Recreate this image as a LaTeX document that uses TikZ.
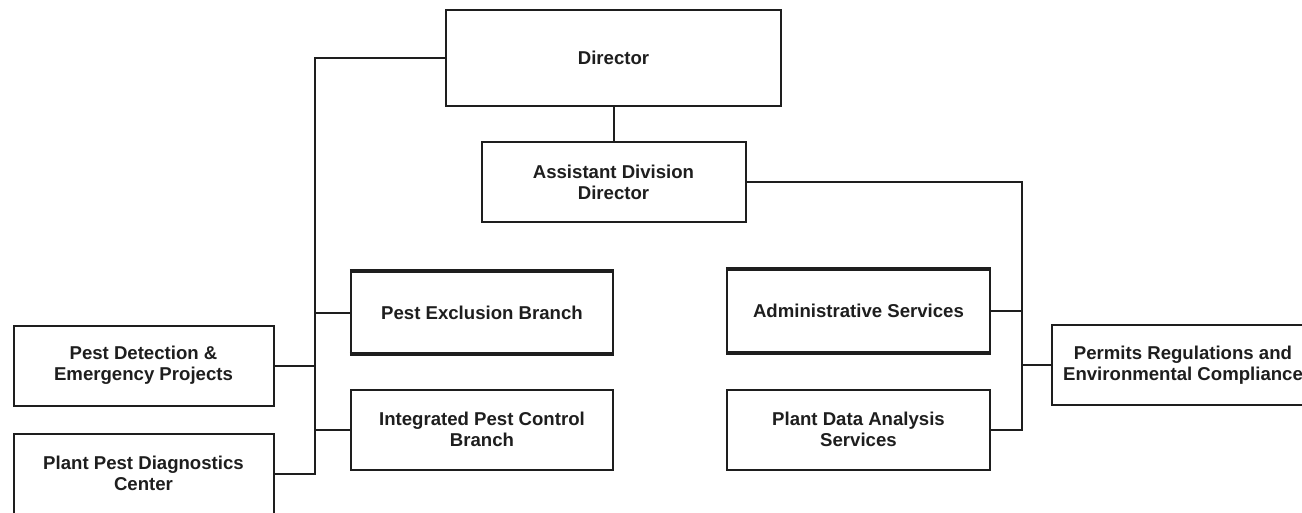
\documentclass[tikz,border=0pt]{standalone}
\usepackage{fontspec}
\setmainfont{Liberation Sans}
\definecolor{ink}{HTML}{1E1E1E}
\begin{document}
\begin{tikzpicture}[x=1pt,y=-1pt,
  box/.style={draw=ink,line width=2pt,fill=white,align=center,inner sep=0pt,
    text=ink,font=\fontsize{18.6}{21}\selectfont\bfseries},
  heavy/.style={box,line width=2.4pt},
  link/.style={draw=ink,line width=2pt,line cap=rect}]
\clip (0,0) rectangle (1302,512);
\fill[white] (0,0) rectangle (1302,512);

% top of the hierarchy
\node[box,minimum width=335pt,minimum height=96pt] (dir) at (613.5,58) {Director};
\node[box,minimum width=264pt,minimum height=80pt] (add) at (613.5,182) {Assistant Division\\Director};

% left-hand units
\node[heavy,minimum width=262pt,minimum height=81pt] (pe) at (482,312.5) {Pest Exclusion Branch};
\node[box,minimum width=262pt,minimum height=80pt] (ipc) at (482,429.5) {Integrated Pest Control\\Branch};
\node[box,minimum width=260pt,minimum height=80pt] (pd) at (143.5,365.5) {Pest Detection \&\\Emergency Projects};
\node[box,minimum width=260pt,minimum height=80pt] (ppdc) at (143.5,473.5) {Plant Pest Diagnostics\\Center};

% right-hand units
\node[heavy,minimum width=263pt,minimum height=82pt] (adm) at (858.5,311) {Administrative Services};
\node[box,minimum width=263pt,minimum height=80pt] (pda) at (858.5,429.5) {Plant Data Analysis\\Services};
\node[box,minimum width=262pt,minimum height=80pt] (prc) at (1183,365) {Permits Regulations and\\Environmental Compliance};

% heavier top and bottom rules on the two branch boxes
\foreach \n in {pe,adm}{
  \draw[ink,line width=3.6pt] (\n.north west) -- (\n.north east);
  \draw[ink,line width=3.6pt] (\n.south west) -- (\n.south east);
}

% bus lines
\coordinate (lb) at (315,0);
\coordinate (rb) at (1021.5,0);

\draw[link] (dir.south) -- (add.north);
\draw[link] (dir.west) -| (lb |- ppdc.east) -- (ppdc.east);
\draw[link] (pe.west) -- (lb |- pe.west);
\draw[link] (ipc.west) -- (lb |- ipc.west);
\draw[link] (pd.east) -- (lb |- pd.east);

\draw[link] (add.east) -| (rb |- pda.east) -- (pda.east);
\draw[link] (adm.east) -- (rb |- adm.east);
\draw[link] (prc.west) -- (rb |- prc.west);
\end{tikzpicture}
\end{document}
